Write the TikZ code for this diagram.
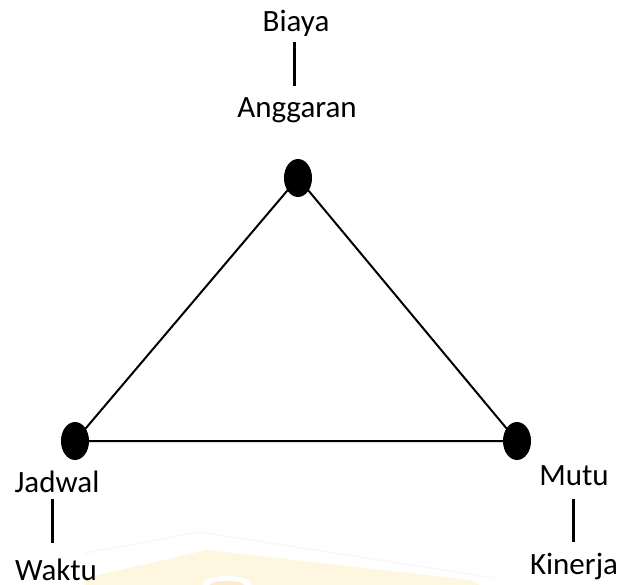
\documentclass[tikz,border=0pt]{standalone}
\usepackage{fontspec}
\setmainfont{Carlito}
\usetikzlibrary{shapes.geometric}
\definecolor{wmyellow}{HTML}{FFF6DF}
\definecolor{wmorange}{HTML}{FDEBCB}
\definecolor{wmgrey}{HTML}{F6F6F6}
\begin{document}
\begin{tikzpicture}[x=1pt,y=-1pt,
  dot/.style={ellipse,fill=black,draw=none,minimum width=28pt,minimum height=38pt,inner sep=0pt},
  lbl/.style={font=\fontsize{31}{36}\selectfont,inner sep=0pt,anchor=base},
  edge/.style={line width=2pt},
  bar/.style={line width=3pt}]
\useasboundingbox (0,0) rectangle (621,585);
% faint watermark
\draw[wmgrey,line width=1.2pt] (85,553) -- (200,532) -- (495,578);
\fill[wmyellow] (85,578) -- (207,550) -- (470,580) -- (480,585) -- (85,585) -- cycle;
\fill[white] (227,584) ellipse (24 and 8);
\fill[wmorange] (227,585) ellipse (17 and 4);
% diagram
\node[dot] (top) at (298,178) {};
\node[dot] (left) at (75,441) {};
\node[dot] (right) at (517,441) {};
\draw[edge] (top.center) -- (left.center) -- (right.center) -- cycle;
\node[lbl] (biaya) at (296,32) {Biaya};
\node[lbl] (angg) at (297,118) {Anggaran};
\node[lbl] (jadwal) at (57,492) {Jadwal};
\node[lbl] (waktu) at (56,580) {Waktu};
\node[lbl] (mutu) at (574,485) {Mutu};
\node[lbl] (kinerja) at (574,574) {Kinerja};
\coordinate (b1) at (294,42); \coordinate (b2) at (294,86);
\coordinate (j1) at (52,499); \coordinate (j2) at (52,543);
\coordinate (m1) at (573,499); \coordinate (m2) at (573,542);
\draw[bar] (b1) -- (b2);
\draw[bar] (j1) -- (j2);
\draw[bar] (m1) -- (m2);
\end{tikzpicture}
\end{document}
